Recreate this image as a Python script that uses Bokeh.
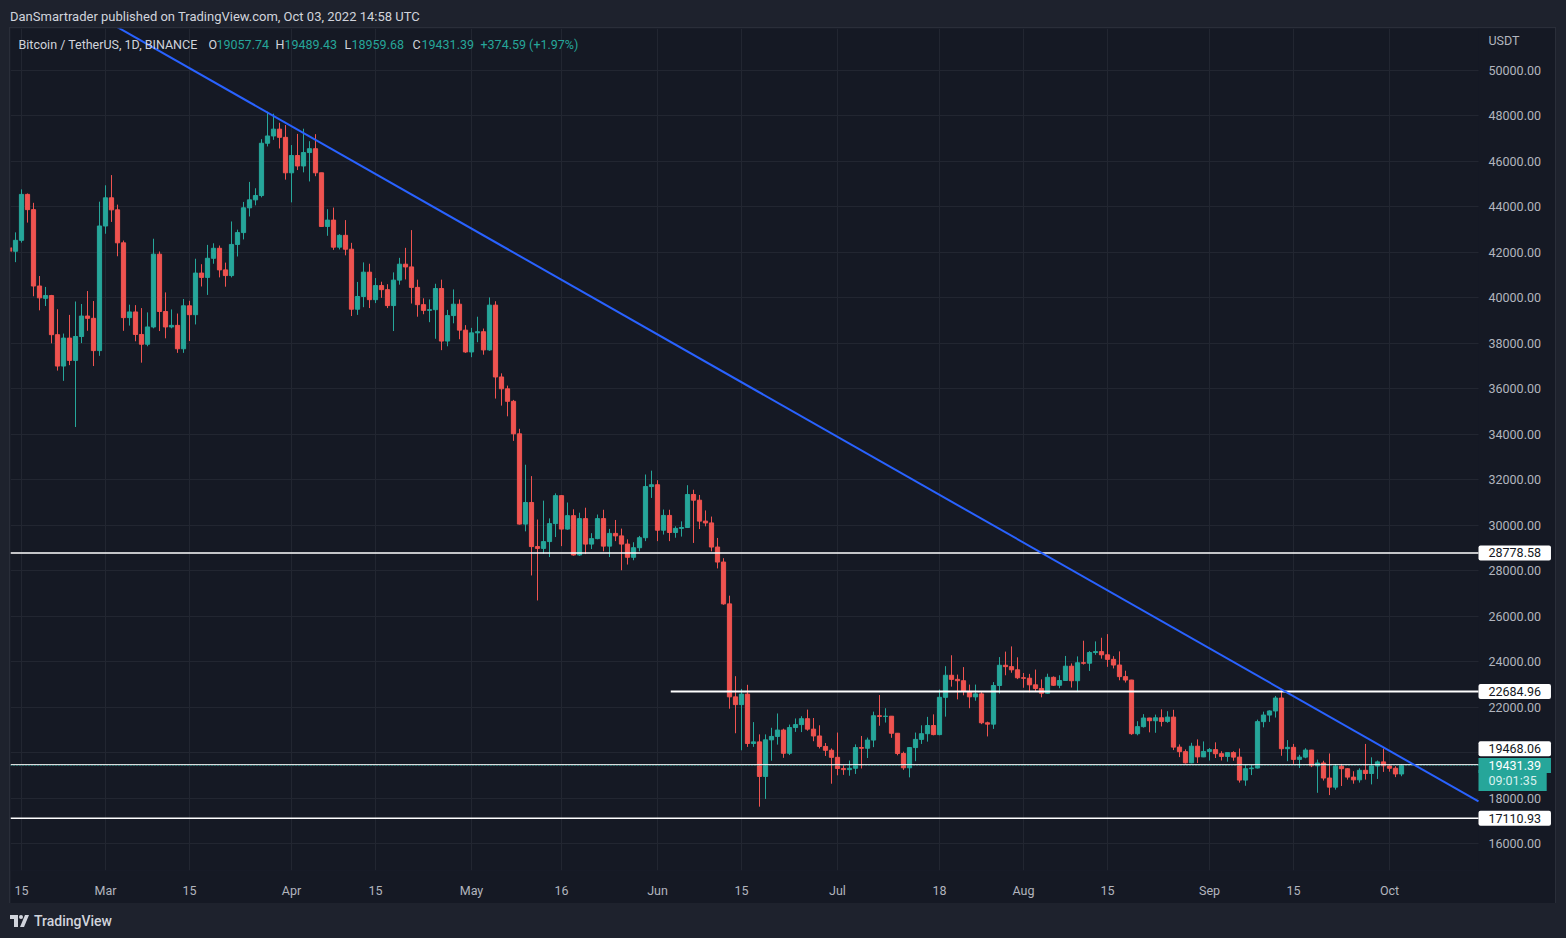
import numpy as np
import pandas as pd
from bokeh.plotting import figure
from bokeh.models import (ColumnDataSource, Range1d, FixedTicker, NumeralTickFormatter,
                          BoxAnnotation, Label, Div)
from bokeh.layouts import column
from bokeh.embed import file_html
from bokeh.resources import INLINE

# ---------------- data ----------------
start_date = "2022-02-13"

open_ = [
    42200, 42050, 42530, 44550, 43880, 40520, 39980, 40100, 38380, 37000, 38230, 37250, 38300, 39200, 39100, 37680,
    43160, 44400, 43870, 42420, 39130, 39380, 38390, 37960, 38720, 41920, 39400, 38720, 38790, 37760, 39650, 39260,
    41090, 40900, 41740, 42180, 41230, 40980, 42350, 42870, 43960, 44310, 44500, 46800, 47120, 47420, 47060,
    45500, 46260, 45800, 46390, 46560, 45500, 43140, 43420, 42230, 42750, 42140, 39500, 40060, 41130, 39920, 40540,
    40360, 39660, 40780, 41480, 41360, 40460, 39700, 39450, 39480, 40410, 38100, 39220, 39720, 38580,
    37620, 38460, 38510, 37710, 39680, 36520, 36000, 35450, 34020, 30050, 31000, 29060, 28980, 29280, 30070, 31300,
    29830, 30420, 28690, 30290, 29170, 29410, 30290, 29080, 29640, 29530, 29170, 28590, 29010, 29450, 31700,
    31780, 29780, 30430, 29680, 29860, 29900, 31350, 31100, 30180, 30100, 29040, 28380, 26540, 22450, 22110, 22570,
    20400, 20470, 18950, 20560, 20710, 20990, 19970, 21100, 21230, 21490, 21030, 20730, 20270, 20100,
    19790, 19300, 19250, 19310, 20220, 20190, 20550, 21620, 21590, 21600, 20850, 19960, 19330, 20220, 20580, 20830,
    21190, 20790, 22430, 23400, 23220, 23160, 22690, 22450, 22580, 21310, 21250, 22950, 23840, 23780, 23640,
    23290, 23270, 22980, 22820, 22610, 23310, 22960, 23170, 23800, 23160, 23950, 23930, 24400, 24440, 24300, 24100,
    23850, 23340, 23190, 20830, 21140, 21520, 21400, 21530, 21370, 21560, 20240, 20040, 19550, 20280, 19810,
    20050, 20130, 19950, 19830, 20000, 19800, 18790, 19290, 19320, 21360, 21650, 21830, 22400, 20170, 20230, 19700,
    19800, 20110, 19420, 19540, 18880, 18480, 19400, 19290, 18920, 18800, 19220, 19080, 19410, 19590,
    19420, 19310, 19057.74,
]
high = [
    42500, 42880, 44770, 44590, 44180, 40960, 40480, 40130, 39500, 38430, 39250, 39840, 39730, 40300, 39860, 44230,
    44950, 45400, 44100, 42520, 39700, 39680, 39550, 39360, 42600, 42040, 40240, 39490, 39310, 39950, 39870, 41720,
    41480, 42330, 42400, 42300, 41550, 43360, 43000, 44220, 45100, 44820, 46980, 48190, 48100, 47700, 47600,
    46720, 47210, 47440, 46890, 47200, 45500, 43900, 43970, 42800, 43420, 42420, 40700, 41560, 41500, 40870, 40710,
    40600, 41120, 41760, 42200, 42980, 40800, 39980, 39930, 40620, 40800, 39470, 40370, 39930, 38800,
    38680, 39170, 38650, 40020, 39850, 36680, 36140, 35510, 34240, 32660, 32160, 30250, 31080, 30300, 31400, 31330,
    31000, 30700, 30550, 30770, 29650, 30470, 30680, 29840, 30230, 29850, 29380, 29250, 29530, 32230, 32400,
    31980, 30690, 30680, 29950, 30170, 31760, 31560, 31330, 30650, 30380, 29440, 28550, 26900, 23360, 22800, 22980,
    21340, 20800, 20800, 21090, 21720, 21050, 21230, 21500, 21600, 21890, 21520, 21200, 20420, 20180,
    20880, 19440, 19650, 20360, 20730, 20660, 21800, 22530, 21950, 21600, 20860, 20040, 20240, 20880, 21200, 21570,
    21680, 22770, 23800, 24280, 23430, 23760, 22990, 22990, 22660, 21360, 23100, 24200, 24440, 24670, 24190,
    23500, 23460, 23650, 23220, 23470, 23350, 23400, 24250, 23920, 24230, 24920, 24460, 24890, 25050, 25210, 24240,
    24450, 23600, 23200, 21380, 21690, 21530, 21670, 21900, 21820, 21880, 20360, 20140, 20430, 20580, 20490,
    20200, 20450, 20060, 20000, 20060, 20180, 19460, 19460, 21450, 21800, 21860, 22490, 22800, 20550, 20380, 19900,
    20190, 20120, 19690, 19640, 19960, 19490, 19500, 19320, 19180, 19310, 20380, 19790, 19650, 20180,
    19480, 19400, 19489.43,
]
low = [
    41900, 41570, 42430, 43310, 40070, 39450, 39640, 38000, 36800, 36350, 37040, 34320, 38010, 38550, 37000, 37450,
    42820, 43340, 41830, 38550, 38780, 38090, 37150, 37870, 38660, 38540, 38220, 38660, 37580, 37580, 38100, 38830,
    40500, 40130, 41500, 40900, 40490, 40900, 41820, 42570, 43580, 44070, 44420, 46660, 46950, 46570, 45200,
    44200, 45620, 45520, 45120, 45350, 43120, 42730, 42110, 42130, 41870, 39200, 39250, 39590, 39550, 39770, 40000,
    39550, 38540, 40580, 40810, 39750, 39170, 39280, 38930, 38200, 37700, 37870, 38880, 38180, 37580,
    37390, 38050, 37500, 37670, 35570, 35260, 34790, 33710, 30030, 29730, 27790, 26690, 28750, 28600, 29480, 29080,
    29800, 28660, 28650, 28730, 28950, 29380, 28850, 28600, 29300, 28020, 28270, 28460, 28850, 29300, 31200,
    29300, 29590, 29300, 29450, 29500, 29880, 29220, 29830, 29950, 28850, 28100, 26500, 21930, 20850, 20100, 20250,
    20250, 17620, 17960, 19640, 20350, 19770, 19890, 20910, 20900, 20960, 20500, 20180, 19850, 18630,
    19000, 19020, 18980, 19060, 19300, 19760, 20240, 21180, 21320, 20650, 19880, 19240, 18910, 19620, 20380, 20480,
    20760, 20760, 21580, 22900, 22340, 22520, 21950, 22280, 21250, 20710, 21040, 22600, 23400, 23510, 23230,
    22850, 22650, 22680, 22430, 22590, 22930, 22830, 23150, 22860, 22660, 23870, 23590, 24300, 24130, 23770, 23700,
    23180, 23080, 20780, 20760, 21100, 20890, 20870, 21150, 21310, 20110, 19800, 19520, 19530, 19540, 19800,
    19650, 19760, 19650, 19600, 19640, 18680, 18540, 19010, 19300, 21110, 21350, 21540, 19860, 19620, 19500, 19320,
    19750, 19360, 18230, 18770, 18130, 18370, 18530, 18810, 18630, 18680, 18810, 18600, 18840, 19150,
    19160, 18920, 18959.68,
]
close = [
    42050, 42530, 44550, 43880, 40520, 40000, 40100, 38380, 37000, 38230, 37250, 38300, 39200, 39100, 37680, 43160,
    44400, 43870, 42420, 39130, 39380, 38390, 37960, 38720, 41920, 39400, 38720, 38790, 37760, 39650, 39260, 41090,
    40900, 41740, 42180, 41230, 40980, 42350, 42870, 43960, 44310, 44500, 46800, 47120, 47420, 47060, 45500,
    46260, 45800, 46390, 46560, 45500, 43140, 43420, 42230, 42750, 42140, 39500, 40060, 41130, 39920, 40540, 40360,
    39660, 40780, 41480, 41360, 40460, 39700, 39450, 39480, 40410, 38100, 39220, 39720, 38580, 37620,
    38460, 38510, 37710, 39680, 36520, 36000, 35450, 34020, 30050, 31000, 29060, 28980, 29280, 30070, 31300, 29830,
    30420, 28690, 30290, 29170, 29410, 30290, 29080, 29640, 29530, 29170, 28590, 29010, 29450, 31700, 31780,
    29780, 30430, 29680, 29860, 29900, 31350, 31100, 30180, 30100, 29040, 28380, 26540, 22450, 22110, 22570, 20400,
    20470, 18950, 20560, 20710, 20990, 19970, 21100, 21230, 21490, 21030, 20730, 20270, 20100, 19790,
    19300, 19250, 19310, 20220, 20190, 20550, 21620, 21590, 21600, 20850, 19960, 19330, 20220, 20580, 20830, 21190,
    20790, 22430, 23400, 23220, 23160, 22690, 22450, 22580, 21310, 21250, 22950, 23840, 23780, 23640, 23290,
    23270, 22980, 22820, 22610, 23310, 22960, 23170, 23800, 23160, 23950, 23930, 24400, 24440, 24300, 24100, 23850,
    23340, 23190, 20830, 21140, 21520, 21400, 21530, 21370, 21560, 20240, 20040, 19550, 20280, 19810, 20050,
    20130, 19950, 19830, 20000, 19800, 18790, 19290, 19320, 21360, 21650, 21830, 22400, 20170, 20230, 19700, 19800,
    20110, 19420, 19540, 18880, 18480, 19400, 19290, 18920, 18800, 19220, 19080, 19410, 19590, 19420,
    19310, 19060, 19431.39,
]
assert len(open_) == len(high) == len(low) == len(close)

# horizontal levels drawn by the author
level_prices = [28778.58, 17110.93]
level_labels = ["28778.58", "17110.93"]
partial_level_price = 22684.96
partial_level_label = "22684.96"
partial_level_start = "2022-06-03 05:00"
near_level_price = 19468.06
near_level_label = "19468.06"
last_price = 19431.39
last_price_text = "19431.39"
countdown_text = "09:01:35"

# trendline anchors (date, price)
trend_dates = ["2022-03-28", "2022-09-13"]
trend_prices = [48150, 22780]

# axis ticks (20000 label is hidden behind the price marks in the original)
y_ticks = list(range(16000, 50001, 2000))
y_hidden_labels = [20000]
x_tick_dates = ["2022-02-15", "2022-03-01", "2022-03-15", "2022-04-01", "2022-04-15", "2022-05-01",
                "2022-05-16", "2022-06-01", "2022-06-15", "2022-07-01", "2022-07-18", "2022-08-01",
                "2022-08-15", "2022-09-01", "2022-09-15", "2022-10-01"]
x_tick_labels = ["15", "Mar", "15", "Apr", "15", "May", "16", "Jun", "15", "Jul", "18", "Aug",
                 "15", "Sep", "15", "Oct"]

legend_parts = [("Bitcoin / TetherUS, 1D, BINANCE", "#D1D4DC"), ("O", "#D1D4DC"), ("19057.74", "#26A69A"),
                ("H", "#D1D4DC"), ("19489.43", "#26A69A"), ("L", "#D1D4DC"), ("18959.68", "#26A69A"),
                ("C", "#D1D4DC"), ("19431.39", "#26A69A"), ("+374.59 (+1.97%)", "#26A69A")]
legend_x = [8, 198, 206, 265, 274, 334, 341, 402, 411, 470]

# ---------------- styling ----------------
PANE = "#151924"
OUTER = "#1E222D"
GRID = "#222631"
UP = "#26A69A"
DOWN = "#EF5350"
AXIS_TXT = "#B2B5BE"
FONT = "Roboto"
DAY = 86400000


def ms(s):
    return pd.Timestamp(s).value / 1e6


dates = pd.date_range(start_date, periods=len(close), freq="D")
o = np.array(open_, dtype=float)
c = np.array(close, dtype=float)
colors = [UP if cc >= oo else DOWN for oo, cc in zip(o, c)]
src = ColumnDataSource(dict(date=dates, high=high, low=low,
                            top=np.maximum(o, c), bottom=np.minimum(o, c), color=colors))

x_start = ms("2022-02-13 04:00")
x_edge = ms("2022-10-15 20:00")      # where the price scale column begins
x_end = ms("2022-10-28 16:00")       # right edge of the pane

p = figure(width=1545, height=875, x_axis_type="datetime", y_axis_location="right",
           x_range=Range1d(x_start, x_end), y_range=Range1d(14813, 51847),
           output_backend="svg", toolbar_location=None,
           min_border_left=0, min_border_top=0, min_border_right=0, min_border_bottom=33,
           background_fill_color=PANE, border_fill_color=PANE, outline_line_color=None,
           margin=(0, 11, 0, 10), styles={"box-shadow": "0 0 0 1px #2A2E39"})

# grids and axes
x_ticks = [ms(d) for d in x_tick_dates]
p.xaxis.ticker = FixedTicker(ticks=x_ticks)
p.xgrid.ticker = FixedTicker(ticks=x_ticks)
p.xaxis.major_label_overrides = {t: l for t, l in zip(x_ticks, x_tick_labels)}
p.yaxis.ticker = FixedTicker(ticks=y_ticks)
p.ygrid.ticker = FixedTicker(ticks=y_ticks)
p.yaxis.formatter = NumeralTickFormatter(format="0.00")
p.yaxis.major_label_overrides = {t: "" for t in y_hidden_labels}
for g in (p.xgrid, p.ygrid):
    g.grid_line_color = GRID
    g.grid_line_width = 1
for ax in (p.xaxis, p.yaxis):
    ax.axis_line_color = None
    ax.major_tick_line_color = None
    ax.minor_tick_line_color = None
    ax.major_tick_out = 0
    ax.major_tick_in = 0
    ax.major_label_text_color = AXIS_TXT
    ax.major_label_text_font = FONT
    ax.major_label_text_font_size = "12.5px"
p.yaxis.major_label_standoff = -67
p.xaxis.major_label_standoff = 12

# price-scale column background (hides the grid there)
p.add_layout(BoxAnnotation(left=x_edge, fill_color=PANE, fill_alpha=1, line_color=None,
                           level="underlay"))

# candles
p.segment("date", "high", "date", "low", source=src, line_color="color", line_width=1)
p.vbar(x="date", width=0.7 * DAY, top="top", bottom="bottom", source=src,
       fill_color="color", line_color="color", line_width=1)

# horizontal levels
for lp in level_prices:
    p.segment(x0=[x_start], y0=[lp], x1=[x_edge], y1=[lp], line_color="white", line_width=1.5)
p.segment(x0=[ms(partial_level_start)], y0=[partial_level_price], x1=[x_edge], y1=[partial_level_price],
          line_color="white", line_width=2)
p.segment(x0=[x_start], y0=[near_level_price], x1=[x_edge], y1=[near_level_price],
          line_color="white", line_width=1)
p.segment(x0=[x_start], y0=[last_price], x1=[x_edge], y1=[last_price],
          line_color=UP, line_width=1, line_dash="1 2")

# trendline (extended through its two anchors up to the price scale)
tx = [ms(d) for d in trend_dates]
grad = (trend_prices[1] - trend_prices[0]) / (tx[1] - tx[0])
icpt = trend_prices[0] - grad * tx[0]
p.line(x=[x_start, x_edge], y=[icpt + grad * x_start, icpt + grad * x_edge],
       line_color="#2962FF", line_width=2)


# price labels on the price scale
def price_box(y, text, bg, fg, y_off=0, pad=(10, 3), radius=2):
    p.add_layout(Label(x=x_edge, y=y, text=text, x_units="data", y_units="data",
                       text_align="left", text_baseline="middle", y_offset=y_off,
                       text_font=FONT, text_font_size="12.5px", text_color=fg,
                       background_fill_color=bg, padding=pad, border_radius=radius))


for lp, lt in zip(level_prices, level_labels):
    price_box(lp, lt, "white", "#131722")
price_box(partial_level_price, partial_level_label, "white", "#131722")
price_box(near_level_price, near_level_label, "white", "#131722", y_off=16)
price_box(last_price, countdown_text, UP, "#D8F0EE", y_off=-15, pad=(10, 3), radius=0)
price_box(last_price, last_price_text, UP, "white", y_off=0, pad=(10, 3), radius=0)

p.add_layout(Label(x=x_edge, y=830, x_units="data", y_units="screen", x_offset=10, text="USDT",
                   text_font=FONT, text_font_size="12.5px", text_color=AXIS_TXT,
                   text_baseline="middle", text_align="left"))

# legend line at the top of the pane
for (txt, col), lx in zip(legend_parts, legend_x):
    p.add_layout(Label(x=lx, y=826, x_units="screen", y_units="screen", text=txt,
                       text_font=FONT, text_font_size="12.5px", text_color=col,
                       text_baseline="middle", text_align="left"))

header = Div(text='<div style="margin:9px 0 0 10px;font:13px Roboto, sans-serif;color:#D1D4DC;'
                  'white-space:nowrap">DanSmartrader published on TradingView.com, Oct 03, 2022 14:58 UTC</div>',
             width=1566, height=28, margin=0, styles={"background-color": OUTER})
footer = Div(text='<div style="margin:10px 0 0 10px;display:flex;align-items:center;gap:5px;'
                  'font:500 14px Roboto, sans-serif;color:#D1D4DC;white-space:nowrap">'
                  '<svg width="19" height="12" viewBox="0 0 19 12">'
                  '<path d="M0 0h8v12h-4v-8h-4z" fill="#D1D4DC"/>'
                  '<circle cx="11" cy="2" r="2" fill="#D1D4DC"/>'
                  '<path d="M15 0h4l-5 12h-4z" fill="#D1D4DC"/></svg>'
                  '<span>TradingView</span></div>',
             width=1566, height=35, margin=0, styles={"background-color": OUTER})

root = column(header, p, footer, spacing=0, styles={"background-color": OUTER})

open("out.html", "w").write(file_html(root, INLINE))
